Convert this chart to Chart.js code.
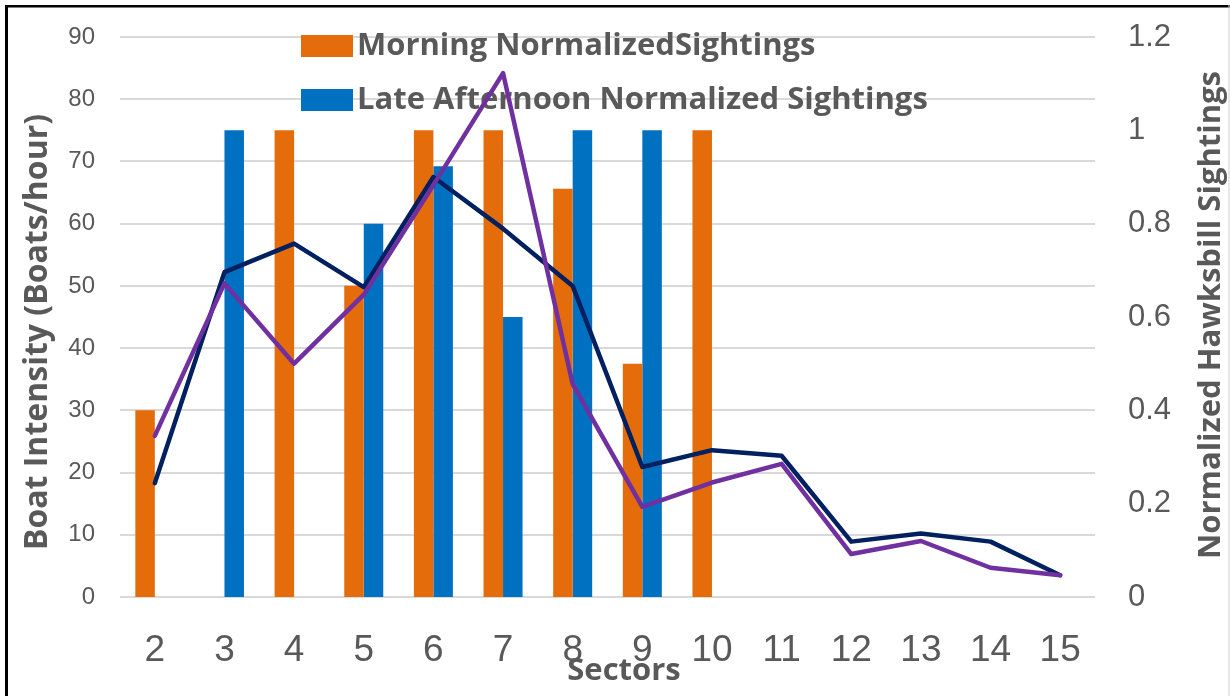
<!DOCTYPE html>
<html>
<head>
<meta charset="utf-8">
<script src="https://cdn.jsdelivr.net/npm/chart.js@4/dist/chart.umd.min.js"></script>
<style>
  html, body { margin: 0; padding: 0; background: #ffffff; }
  #wrap { position: relative; width: 1230px; height: 696px; }
</style>
</head>
<body>
<div id="wrap"><canvas id="c" width="1230" height="696"></canvas></div>
<script>
// ---- data ----
const sectors = ['2','3','4','5','6','7','8','9','10','11','12','13','14','15'];
const morningSightings   = [0.4, null, 1.0, 0.667, 1.0, 1.0, 0.875, 0.5, 1.0, null, null, null, null, null];
const afternoonSightings = [null, 1.0, null, 0.8, 0.923, 0.6, 1.0, 1.0, null, null, null, null, null, null];
const boatIntensityNavy   = [18.3, 52.2, 56.8, 49.8, 67.5, 59.2, 50.0, 20.9, 23.6, 22.7, 8.9, 10.2, 8.9, 3.5];
const boatIntensityPurple = [25.9, 50.4, 37.5, 48.6, 66.2, 84.2, 34.2, 14.5, 18.4, 21.4, 6.9, 9.0, 4.7, 3.5];
const leftTicks  = [0, 10, 20, 30, 40, 50, 60, 70, 80, 90];
const rightTicks = [0, 0.2, 0.4, 0.6, 0.8, 1, 1.2];

const legendLabels = ['Morning NormalizedSightings', 'Late Afternoon Normalized Sightings'];
const titleLeft  = 'Boat Intensity (Boats/hour)';
const titleRight = 'Normalized Hawksbill Sightings';
const titleX     = 'Sectors';

const TEXT = '#595959';
const ORANGE = '#E46C0A', BLUE = '#0070C0', NAVY = '#002060', PURPLE = '#7030A0';
const BOLD = 'bold 31px "Open Sans"';

const decor = {
  id: 'decor',
  beforeDatasetsDraw(chart) {
    const ctx = chart.ctx;
    ctx.save();
    const items = [
      { label: chart.data.datasets[2].label, color: chart.data.datasets[2].backgroundColor, y: 35 },
      { label: chart.data.datasets[3].label, color: chart.data.datasets[3].backgroundColor, y: 89 }
    ];
    ctx.font = BOLD;
    ctx.textBaseline = 'middle';
    ctx.textAlign = 'left';
    items.forEach(it => {
      ctx.fillStyle = it.color;
      ctx.fillRect(301, it.y, 52, 22);
      ctx.fillStyle = TEXT;
      ctx.fillText(it.label, 357, it.y + 11);
    });
    ctx.restore();
  },
  afterDraw(chart) {
    const ctx = chart.ctx;
    ctx.save();
    ctx.fillStyle = TEXT;
    ctx.textAlign = 'center';
    ctx.textBaseline = 'middle';
    ctx.font = 'bold 32px "Open Sans"';
    ctx.save();
    ctx.translate(38, 332);
    ctx.rotate(-Math.PI / 2);
    ctx.fillText(titleLeft, 0, 0);
    ctx.restore();
    ctx.font = BOLD;
    ctx.save();
    ctx.translate(1211, 315);
    ctx.rotate(-Math.PI / 2);
    ctx.fillText(titleRight, 0, 0);
    ctx.restore();
    ctx.fillText(titleX, 624, 671);
    // frame
    ctx.fillStyle = '#000000';
    ctx.fillRect(5, 5, 3, 691);
    ctx.fillRect(5, 5, 1225, 2.5);
    ctx.fillStyle = '#d0d0d0';
    ctx.fillRect(1228.5, 5, 1, 691);
    ctx.restore();
  }
};

function noPad(s) { s.paddingTop = 0; s.paddingBottom = 0; }

new Chart(document.getElementById('c'), {
  type: 'bar',
  data: {
    labels: sectors,
    datasets: [
      { type: 'line', label: 'Boat Intensity A', data: boatIntensityPurple, yAxisID: 'y',
        borderColor: PURPLE, backgroundColor: PURPLE, borderWidth: 4.5, pointRadius: 0,
        tension: 0, borderJoinStyle: 'round', borderCapStyle: 'round', order: 0 },
      { type: 'line', label: 'Boat Intensity B', data: boatIntensityNavy, yAxisID: 'y',
        borderColor: NAVY, backgroundColor: NAVY, borderWidth: 4.5, pointRadius: 0,
        tension: 0, borderJoinStyle: 'round', borderCapStyle: 'round', order: 1 },
      { label: legendLabels[0], data: morningSightings, yAxisID: 'y1',
        backgroundColor: ORANGE, categoryPercentage: 0.56, barPercentage: 1.0, order: 2 },
      { label: legendLabels[1], data: afternoonSightings, yAxisID: 'y1',
        backgroundColor: BLUE, categoryPercentage: 0.56, barPercentage: 1.0, order: 3 }
    ]
  },
  options: {
    responsive: false,
    animation: false,
    layout: { padding: { top: 37, left: 0, right: 0, bottom: 0 } },
    plugins: { legend: { display: false }, tooltip: { enabled: false } },
    scales: {
      x: {
        grid: { display: false, drawTicks: false },
        border: { display: false },
        ticks: { color: TEXT, font: { family: 'Liberation Sans', size: 37 }, padding: 32, maxRotation: 0 },
        afterFit(s) { s.height = 99; }
      },
      y: {
        position: 'left', min: 0, max: 90,
        afterBuildTicks(s) { s.ticks = leftTicks.map(v => ({ value: v })); },
        grid: { color: '#d9d9d9', lineWidth: 2, drawTicks: false },
        border: { display: false },
        ticks: { color: TEXT, font: { family: 'Liberation Sans', size: 24 }, padding: 25 },
        afterFit(s) { s.width = 120; noPad(s); }
      },
      y1: {
        position: 'right', min: 0, max: 1.2,
        afterBuildTicks(s) { s.ticks = rightTicks.map(v => ({ value: v })); },
        grid: { display: false, drawTicks: false },
        border: { display: false },
        ticks: { color: TEXT, font: { family: 'Liberation Sans', size: 31 }, padding: 33,
                 callback: v => String(v) },
        afterFit(s) { s.width = 135; noPad(s); }
      }
    }
  },
  plugins: [decor]
});
</script>
</body>
</html>
